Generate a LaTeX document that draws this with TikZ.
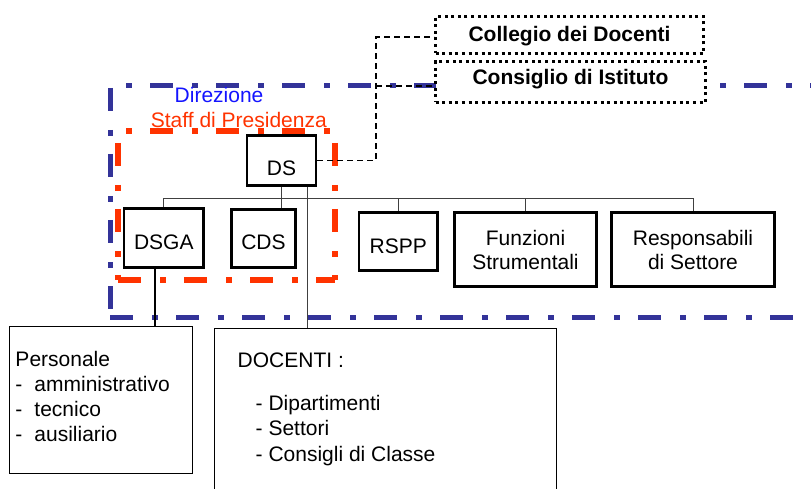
\documentclass[tikz,border=0pt]{standalone}
\usepackage{fontspec}
\setmainfont{Liberation Sans}
\definecolor{blueframe}{RGB}{51,51,153}
\definecolor{redframe}{RGB}{255,51,0}
\definecolor{bluetext}{RGB}{20,20,255}
\begin{document}
\begin{tikzpicture}[x=1pt,y=-1pt,
  every node/.style={font=\fontsize{21}{25}\selectfont},
  box/.style={draw, line width=2.6pt, fill=white, inner sep=0pt, align=center},
  thinbox/.style={draw, line width=1.2pt, inner sep=0pt},
  dotbox/.style={draw, line width=3pt, dash pattern=on 3pt off 3.6pt, fill=white, inner sep=0pt, font=\bfseries\fontsize{21}{25}\selectfont},
  conn/.style={line width=1pt, draw=black!75},
  dashconn/.style={line width=1.5pt, dash pattern=on 6pt off 4pt},
  bluedash/.style={line width=5pt, draw=blueframe, dash pattern=on 23pt off 19pt on 6pt off 18pt},
  reddash/.style={line width=5.5pt, draw=redframe, dash pattern=on 23pt off 19pt on 6pt off 18pt},
  txt/.style={inner sep=0pt, anchor=base west}
]
\useasboundingbox (0,0) rectangle (811,489);
\clip (0,0) rectangle (811,489);

% Direzione frame (blue)
\draw[bluedash, dash phase=26pt] (110,86) -- (830,86);
\draw[bluedash, dash phase=64pt] (110,86) -- (110,317);
\draw[bluedash] (110,317) -- (830,317);

% Staff di Presidenza frame (red)
\draw[reddash, dash phase=34pt] (118,131) -- (335,131);
\draw[reddash, dash phase=54pt] (118,131) -- (118,280);
\draw[reddash, dash phase=54pt] (335,131) -- (335,280);
\draw[reddash] (118,280) -- (335,280);

\node[txt, text=bluetext] (dir) at (174.5,102.3) {Direzione};
\node[txt, text=redframe] (staff) at (150.7,127.5) {Staff di Presidenza};

% boxes
\node[box, minimum width=69pt, minimum height=50pt, text height=30pt, text depth=0pt] (ds) at (281.5,160.3) {DS};
\node[box, minimum width=79.7pt, minimum height=59.4pt, text height=23pt, text depth=0pt] (dsga) at (163.8,238) {DSGA};
\node[box, minimum width=64.4pt, minimum height=58.4pt, text height=22pt, text depth=0pt] (cds) at (263.5,238.5) {CDS};
\node[box, minimum width=78.7pt, minimum height=58.4pt, text height=24pt, text depth=0pt] (rspp) at (398.3,241.5) {RSPP};
\node[box, minimum width=142.4pt, minimum height=74.4pt, font=\fontsize{21}{24}\selectfont] (funz) at (525.5,249.5) {Funzioni\\Strumentali};
\node[box, minimum width=163.4pt, minimum height=74.4pt, font=\fontsize{21}{24}\selectfont] (resp) at (693,249.5) {Responsabili\\di Settore};

\node[dotbox, minimum width=268pt, minimum height=37pt, text height=15pt, text depth=2.4pt] (coll) at (569.5,35) {Collegio dei Docenti};
\node[dotbox, minimum width=270pt, minimum height=41pt, text height=15pt, text depth=9pt] (cons) at (570.5,82) {Consiglio di Istituto};

\node[thinbox, minimum width=183pt, minimum height=147pt] (pers) at (101,400) {};
\node[txt, align=left] (perstext) at (15.3,441) {Personale\\\makebox[19pt][l]{-}amministrativo\\\makebox[19pt][l]{-}tecnico\\\makebox[19pt][l]{-}ausiliario};

\node[thinbox, minimum width=342pt, minimum height=200pt, anchor=north west] (doc) at (213.5,327.5) {};
\node[txt] (doctitle) at (237.5,367.7) {DOCENTI :};
\node[txt, align=left, font=\fontsize{21}{25.8}\selectfont] (doclist) at (255.5,461.7) {- Dipartimenti\\- Settori\\- Consigli di Classe};

% connectors
\coordinate (bus) at (0,198.3);
\coordinate (dsdoc) at (307,0);
\coordinate (dsgapers) at (155,0);
\coordinate (dashx) at (376,0);
\coordinate (collin) at (0,37);
\coordinate (consin) at (0,86);

\draw[conn] (ds.south) -- (ds.south |- cds.north);
\draw[conn] (dsga.north |- bus) -- (resp.north |- bus);
\draw[conn] (dsga.north) -- (dsga.north |- bus);
\draw[conn] (rspp.north) -- (rspp.north |- bus);
\draw[conn] (funz.north) -- (funz.north |- bus);
\draw[conn] (resp.north) -- (resp.north |- bus);
\draw[conn] (ds.south -| dsdoc) -- (doc.north -| dsdoc);
\draw[line width=1.8pt] (dsga.south -| dsgapers) -- (pers.north -| dsgapers);

\draw[dashconn] (ds.east) -- (ds.east -| dashx) -- (dashx |- collin) -- (coll.west |- collin);
\draw[dashconn] (dashx |- consin) -- (cons.west |- consin);
\end{tikzpicture}
\end{document}
